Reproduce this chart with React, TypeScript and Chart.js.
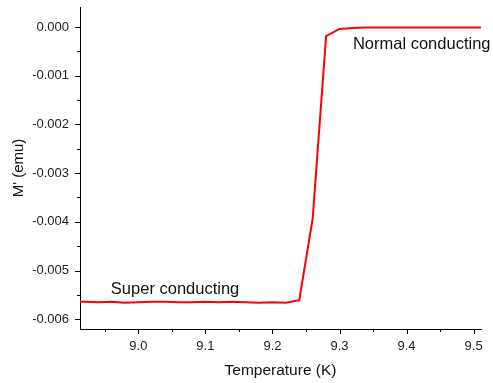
import React, { useEffect, useRef } from "react";
import { Chart, registerables } from "chart.js";

Chart.register(...registerables);

const temperatures = [
  8.90, 8.92, 8.94, 8.96, 8.98, 9.00, 9.02, 9.04, 9.06, 9.08, 9.10, 9.12,
  9.14, 9.16, 9.18, 9.20, 9.22, 9.24, 9.26, 9.28, 9.30, 9.32, 9.34, 9.36,
  9.38, 9.40, 9.42, 9.44, 9.46, 9.48, 9.50, 9.52,
];
const moment = [
  -0.00564, -0.00564, -0.00565, -0.00564, -0.00566, -0.00565, -0.00564,
  -0.00564, -0.00565, -0.00565, -0.00564, -0.00565, -0.00564, -0.00565,
  -0.00566, -0.00565, -0.00566, -0.00561, -0.00393, -0.00019, -0.00004,
  -0.00002, -0.00001, -0.00001, -0.00001, -0.00001, -0.00001, -0.00001,
  -0.00001, -0.00001, -0.00001, -0.00001,
];
const xMajorTicks = [9.0, 9.1, 9.2, 9.3, 9.4, 9.5];
const xMinorTicks = [8.95, 9.05, 9.15, 9.25, 9.35, 9.45];
const yMajorTicks = [-0.006, -0.005, -0.004, -0.003, -0.002, -0.001, 0.0];
const yMinorTicks = [-0.0055, -0.0045, -0.0035, -0.0025, -0.0015, -0.0005];
const annotations = [
  { text: "Normal conducting", x: 9.32, y: -0.00035 },
  { text: "Super conducting", x: 8.959, y: -0.00538 },
];

const FONT = "'Liberation Sans', Arial, sans-serif";

const tickPlugin = {
  id: "customTicks",
  afterDraw(chart: any) {
    const ctx = chart.ctx;
    const xs = chart.scales.x;
    const ys = chart.scales.y;
    const area = chart.chartArea;
    ctx.save();
    ctx.strokeStyle = "#000";
    ctx.lineWidth = 1;
    const drawX = (v: number, len: number) => {
      const px = Math.round(xs.getPixelForValue(v)) + 0.5;
      ctx.beginPath();
      ctx.moveTo(px, area.bottom);
      ctx.lineTo(px, area.bottom + len);
      ctx.stroke();
    };
    const drawY = (v: number, len: number) => {
      const py = Math.round(ys.getPixelForValue(v)) + 0.5;
      ctx.beginPath();
      ctx.moveTo(area.left, py);
      ctx.lineTo(area.left - len, py);
      ctx.stroke();
    };
    xMajorTicks.forEach((v) => drawX(v, 5));
    xMinorTicks.forEach((v) => drawX(v, 3));
    yMajorTicks.forEach((v) => drawY(v, 5));
    yMinorTicks.forEach((v) => drawY(v, 3));

    ctx.fillStyle = "#111";
    ctx.font = `16.5px ${FONT}`;
    ctx.textAlign = "left";
    ctx.textBaseline = "middle";
    annotations.forEach((a) => {
      ctx.fillText(a.text, xs.getPixelForValue(a.x), ys.getPixelForValue(a.y));
    });
    ctx.restore();
  },
};

export default function App() {
  const ref = useRef<HTMLCanvasElement>(null);
  useEffect(() => {
    if (!ref.current) return;
    const chart = new Chart(ref.current, {
      type: "line",
      data: {
        datasets: [
          {
            data: temperatures.map((t, i) => ({ x: t, y: moment[i] })),
            borderColor: "#ff0000",
            borderWidth: 2,
            pointRadius: 0,
            tension: 0,
            fill: false,
          },
        ],
      },
      options: {
        animation: false,
        responsive: true,
        maintainAspectRatio: false,
        layout: { padding: { top: 7, right: 12, left: 0, bottom: 0 } },
        plugins: { legend: { display: false }, tooltip: { enabled: false } },
        scales: {
          x: {
            type: "linear",
            min: 8.913,
            max: 9.511,
            grid: { display: false },
            border: { display: true, color: "#000", width: 1 },
            afterBuildTicks: (s: any) => {
              s.ticks = xMajorTicks.map((v) => ({ value: v }));
            },
            afterFit: (s: any) => {
              s.height = 54;
              s.paddingLeft = 0;
              s.paddingRight = 0;
            },
            ticks: {
              padding: 2,
              color: "#222",
              font: { family: FONT, size: 13 },
              maxRotation: 0,
              autoSkip: false,
              callback: (v: any) => Number(v).toFixed(1),
            },
            title: {
              display: true,
              text: "Temperature (K)",
              color: "#111",
              font: { family: FONT, size: 15.5 },
              padding: { top: 0, bottom: 3 },
            },
          },
          y: {
            type: "linear",
            min: -0.0062,
            max: 0.00041,
            grid: { display: false },
            border: { display: true, color: "#000", width: 1 },
            afterBuildTicks: (s: any) => {
              s.ticks = yMajorTicks.map((v) => ({ value: v }));
            },
            afterFit: (s: any) => {
              s.width = 80;
              s.paddingTop = 0;
              s.paddingBottom = 0;
            },
            ticks: {
              padding: 3,
              color: "#222",
              font: { family: FONT, size: 13 },
              autoSkip: false,
              callback: (v: any) => Number(v).toFixed(3),
            },
            title: {
              display: true,
              text: "M' (emu)",
              color: "#111",
              font: { family: FONT, size: 15 },
              padding: { top: 10, bottom: 0 },
            },
          },
        },
      },
      plugins: [tickPlugin],
    });
    return () => chart.destroy();
  }, []);
  return (
    <div style={{ position: "absolute", left: 0, top: 0, width: 493, height: 383 }}>
      <canvas ref={ref} />
    </div>
  );
}
